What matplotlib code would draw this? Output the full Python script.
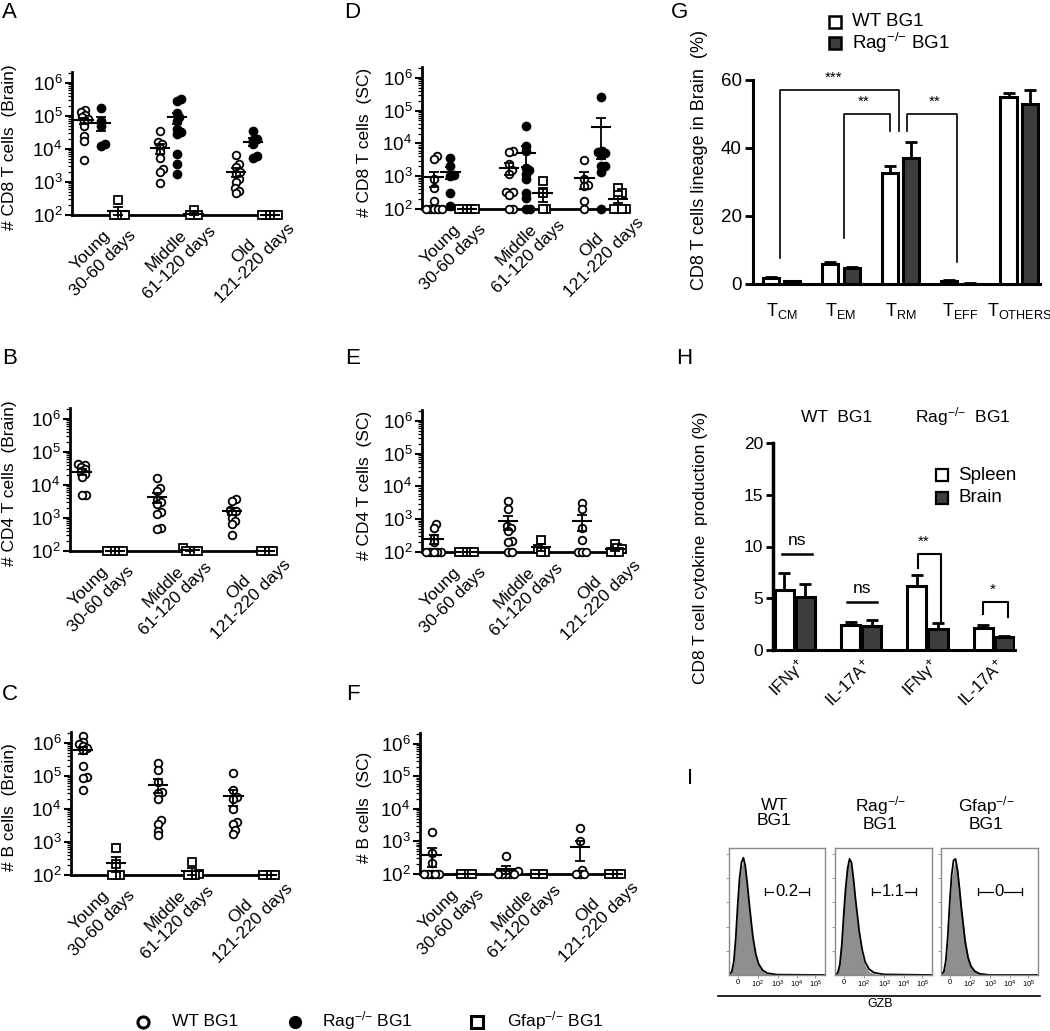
import numpy as np
import matplotlib
matplotlib.use("Agg")
import matplotlib.pyplot as plt
from matplotlib.ticker import LogLocator, LogFormatterSciNotation, NullFormatter

plt.rcParams['font.family'] = ['Liberation Sans', 'DejaVu Sans']
plt.rcParams['mathtext.fontset'] = 'custom'
plt.rcParams['mathtext.rm'] = 'Liberation Sans'
plt.rcParams['mathtext.it'] = 'Liberation Sans:italic'
plt.rcParams['mathtext.bf'] = 'Liberation Sans:bold'

# ---- data ----
AGE_LABELS = ['Young\n30-60 days', 'Middle\n61-120 days', 'Old\n121-220 days']
KO = r'$^{{-}/{-}}$'

# A: CD8 T cells, brain  (young, middle, old)
cd8_brain_wt = [[1.5e5, 1.3e5, 1.1e5, 9e4, 8e4, 7e4, 5e4, 2.5e4, 1.8e4, 4.5e3],
                [3.5e4, 1.6e4, 1.4e4, 1.1e4, 8e3, 5.5e3, 2.5e3, 2e3, 9e2],
                [6.5e3, 3.5e3, 2.8e3, 2e3, 1.8e3, 1.2e3, 1e3, 6.5e2, 5.5e2, 4.5e2]]
cd8_brain_rag = [[1.7e5, 7e4, 5e4, 1.4e4, 1.2e4],
                 [3.3e5, 2.8e5, 1.2e5, 9e4, 7e4, 4e4, 3.2e4, 2.8e4, 7e3, 3.5e3, 1.7e3],
                 [3.5e4, 2e4, 1.9e4, 1.4e4, 6e3, 5.5e3]]
cd8_brain_gfap = [[280, 100, 100, 100, 100],
                  [140, 100, 100, 100],
                  [100, 100, 100, 100, 100]]

# D: CD8 T cells, spinal cord
cd8_sc_wt = [[4e3, 3.3e3, 8e2, 4.5e2, 1.7e2, 100, 100, 100, 100, 100],
             [6e3, 5.5e3, 2.3e3, 1.5e3, 1.2e3, 3.3e2, 3.2e2, 2.7e2, 100, 100],
             [3.2e3, 8e2, 5.5e2, 5e2, 1.7e2, 100]]
cd8_sc_rag = [[3.7e3, 2e3, 1.1e3, 1e3, 3e2, 1.2e2],
              [3.5e4, 8.5e3, 6e3, 1.8e3, 1.5e3, 1.2e3, 8e2, 3e2, 2.1e2, 100, 100],
              [2.6e5, 6e3, 5.5e3, 5e3, 4.5e3, 2.1e3, 2e3, 1.3e3, 100]]
cd8_sc_gfap = [[100, 100, 100, 100, 100],
               [7e2, 3e2, 100, 100],
               [4.4e2, 3e2, 2.7e2, 100, 100, 100, 100]]

# B: CD4 T cells, brain
cd4_brain_wt = [[4.3e4, 4e4, 3.5e4, 3e4, 2.6e4, 2.2e4, 1.8e4, 5e3, 4.8e3],
                [1.6e4, 8e3, 6.5e3, 3.5e3, 3e3, 2.6e3, 1.5e3, 1.3e3, 5e2, 4.5e2],
                [3.8e3, 3.2e3, 1.8e3, 1.6e3, 1.4e3, 1e3, 8e2, 6.5e2, 3e2]]
cd4_brain_gfap = [[100, 100, 100, 100, 100],
                  [120, 100, 100, 100, 100],
                  [100, 100, 100, 100]]

# E: CD4 T cells, spinal cord
cd4_sc_wt = [[7e2, 5.5e2, 2.7e2, 2e2, 100, 100, 100, 100, 100],
             [3.7e3, 2e3, 6e2, 5.5e2, 4.5e2, 2.1e2, 2e2, 100, 100],
             [3.2e3, 2.1e3, 5.5e2, 2.4e2, 100, 100, 100]]
cd4_sc_gfap = [[100, 100, 100, 100, 100],
               [2.4e2, 1.2e2, 100, 100],
               [1.7e2, 1.3e2, 1.2e2, 100, 100, 100]]

# C: B cells, brain
b_brain_wt = [[1.6e6, 1.1e6, 9e5, 8e5, 7e5, 6e5, 2e5, 9e4, 8.5e4, 3.8e4],
              [2.4e5, 1.5e5, 6.5e4, 3.3e4, 3e4, 2e4, 4.5e3, 3.6e3, 2.2e3, 1.6e3],
              [1.2e5, 3.8e4, 2.3e4, 2e4, 1e4, 4e3, 3.5e3, 2.3e3, 1.8e3]]
b_brain_gfap = [[6.5e2, 2.2e2, 100, 100, 100],
                [2.4e2, 110, 100, 100, 100],
                [100, 100, 100, 100]]

# F: B cells, spinal cord
b_sc_wt = [[2e3, 4.5e2, 2.2e2, 100, 100, 100, 100, 100],
           [3.5e2, 1.2e2, 100, 100, 100, 100, 100],
           [2.5e3, 1e3, 1.3e2, 100, 100, 100]]
b_sc_gfap = [[100, 100, 100, 100],
             [100, 100, 100],
             [100, 100, 100, 100]]

# G: CD8 T cell lineage in brain (%)
lineage_labels = [r'$\mathrm{T_{CM}}$', r'$\mathrm{T_{EM}}$', r'$\mathrm{T_{RM}}$',
                  r'$\mathrm{T_{EFF}}$', r'$\mathrm{T_{OTHERS}}$']
lineage_wt = [1.8, 5.8, 32.5, 0.8, 55.0]
lineage_wt_err = [0.2, 0.8, 2.2, 0.3, 1.3]
lineage_rag = [0.8, 4.8, 37.0, 0.1, 53.0]
lineage_rag_err = [0.1, 0.3, 4.7, 0.05, 4.2]

# H: cytokine production (%)
cytokine_labels = ['IFNγ$^{+}$', 'IL-17A$^{+}$', 'IFNγ$^{+}$', 'IL-17A$^{+}$']
cytokine_spleen = [5.8, 2.4, 6.2, 2.1]
cytokine_spleen_err = [1.6, 0.3, 1.0, 0.3]
cytokine_brain = [5.1, 2.3, 2.0, 1.3]
cytokine_brain_err = [1.3, 0.6, 0.6, 0.1]

# I: GZB histograms (fraction of box width / height)
hist_x = [0.0, 0.03, 0.05, 0.07, 0.09, 0.11, 0.13, 0.15, 0.17, 0.19, 0.21, 0.23,
          0.25, 0.28, 0.31, 0.35, 0.40, 0.50, 1.0]
hist_iso = [0, 0.03, 0.10, 0.28, 0.55, 0.78, 0.90, 0.94, 0.88, 0.74, 0.58, 0.44,
            0.30, 0.16, 0.08, 0.03, 0.01, 0, 0]
hist_gzb = [[0, 0.03, 0.11, 0.30, 0.57, 0.80, 0.93, 0.97, 0.90, 0.76, 0.60, 0.45,
             0.31, 0.17, 0.09, 0.04, 0.015, 0.003, 0],
            [0, 0.02, 0.09, 0.25, 0.50, 0.72, 0.88, 0.96, 0.93, 0.80, 0.64, 0.50,
             0.36, 0.21, 0.11, 0.05, 0.02, 0.005, 0],
            [0, 0.03, 0.12, 0.32, 0.60, 0.83, 0.95, 0.96, 0.87, 0.72, 0.55, 0.41,
             0.27, 0.14, 0.07, 0.03, 0.01, 0, 0]]
gzb_pct = ['0.2', '1.1', '0']
gzb_titles = ['WT\nBG1', 'Rag' + KO + '\nBG1', 'Gfap' + KO + '\nBG1']
flow_ticks = ['0', '10$^{2}$', '10$^{3}$', '10$^{4}$', '10$^{5}$']

# ---- layout ----
W, H = 1050, 1031
fig = plt.figure(figsize=(W / 100, H / 100), dpi=100)

ov = fig.add_axes([0, 0, 1, 1])
ov.set_xlim(0, W)
ov.set_ylim(H, 0)
ov.axis('off')
ov.patch.set_visible(False)
ov.set_zorder(10)


def px_axes(x0, y0, x1, y1):
    return fig.add_axes([x0 / W, 1 - y1 / H, (x1 - x0) / W, (y1 - y0) / H])


GROUP_STEP = 4.5
XLIM = (-0.7, 11.6)
YTOP = 10 ** 6.33
DARK = '#3d3d3d'
STYLES = [dict(marker='o', mfc='white', mec='k', ms=5.5, mew=1.3),
          dict(marker='o', mfc='k', mec='k', ms=6, mew=1),
          dict(marker='s', mfc='white', mec='k', ms=5.5, mew=1.3)]


def swarm(logv, px_u, px_dec, dia=3.9):
    # simple beeswarm: smallest horizontal shift that avoids overlaps
    order = np.argsort(logv)
    placed = []
    offs = np.zeros(len(logv))
    for i in order:
        y = logv[i] * px_dec
        best = 0.0
        found = False
        for step in range(0, 60):
            for sgn in ((1,) if step == 0 else (1, -1)):
                x = sgn * step * dia * 0.25
                if all((x - a) ** 2 + (y - b) ** 2 >= dia ** 2 for a, b in placed):
                    best = x
                    found = True
                    break
            if found:
                break
        placed.append((best, y))
        offs[i] = best / px_u
    return offs


def scatter_panel(rect, series, ylabel, ylab_x):
    ax = px_axes(*rect)
    ax.set_yscale('log')
    ax.set_ylim(100, YTOP)
    ax.set_xlim(*XLIM)
    px_u = (rect[2] - rect[0]) / (XLIM[1] - XLIM[0])
    px_dec = (rect[3] - rect[1]) / np.log10(YTOP / 100)
    for k, data in enumerate(series):
        if data is None:
            continue
        for g in range(3):
            v = np.array(data[g], dtype=float)
            x0 = g * GROUP_STEP + k
            offs = swarm(np.log10(v), px_u, px_dec)
            ax.plot(x0 + offs, v, ls='none', clip_on=False, zorder=4, **STYLES[k])
            m = v.mean()
            se = v.std(ddof=1) / np.sqrt(len(v))
            ax.plot([x0 - 0.55, x0 + 0.55], [m, m], color='k', lw=1.5, zorder=5,
                    clip_on=False)
            ax.errorbar([x0], [m], yerr=[[min(se, m - 100)], [se]], fmt='none',
                        ecolor='k', elinewidth=1.3, capsize=3.4, capthick=1.3,
                        zorder=5, clip_on=False)
    for s in ('top', 'right'):
        ax.spines[s].set_visible(False)
    ax.spines['left'].set_linewidth(2)
    ax.spines['bottom'].set_linewidth(2)
    ax.yaxis.set_major_locator(LogLocator(base=10, numticks=10))
    ax.yaxis.set_major_formatter(LogFormatterSciNotation())
    ax.yaxis.set_minor_locator(LogLocator(base=10, subs=np.arange(2, 10), numticks=20))
    ax.yaxis.set_minor_formatter(NullFormatter())
    ax.tick_params(axis='y', which='major', length=5, width=1.5, labelsize=13.5, pad=2)
    ax.tick_params(axis='y', which='minor', length=3, width=0.9)
    ax.set_xticks([g * GROUP_STEP + 0.1 for g in range(3)])
    ax.set_xticklabels(AGE_LABELS, fontsize=12.5)
    ax.tick_params(axis='x', length=0, pad=22)
    for lbl in ax.get_xticklabels():
        lbl.set_rotation(45)
        lbl.set_ha('center')
        lbl.set_va('top')
        lbl.set_rotation_mode('anchor')
        lbl.set_multialignment('center')
    ov.text(ylab_x, (rect[1] + rect[3]) / 2 + 4, ylabel, rotation=90, ha='center',
            va='center', fontsize=12.5)
    return ax


scatter_panel((72, 72, 280, 215), [cd8_brain_wt, cd8_brain_rag, cd8_brain_gfap],
              '# CD8 T cells  (Brain)', 10)
scatter_panel((422, 67, 628, 209), [cd8_sc_wt, cd8_sc_rag, cd8_sc_gfap],
              '# CD8 T cells  (SC)', 364)
scatter_panel((70, 408, 275, 551), [cd4_brain_wt, None, cd4_brain_gfap],
              '# CD4 T cells  (Brain)', 10)
scatter_panel((422, 410, 625, 552), [cd4_sc_wt, None, cd4_sc_gfap],
              '# CD4 T cells  (SC)', 364)
scatter_panel((71, 732, 277, 875), [b_brain_wt, None, b_brain_gfap],
              '# B cells  (Brain)', 10)
scatter_panel((420, 733, 623, 874), [b_sc_wt, None, b_sc_gfap],
              '# B cells  (SC)', 364)

# ---- G: lineage bars ----
axg = px_axes(753, 80, 1040, 284)
xg = np.arange(len(lineage_wt))
axg.bar(xg - 0.18, lineage_wt, 0.27, color='white', edgecolor='k', lw=2.2, zorder=3)
axg.bar(xg + 0.18, lineage_rag, 0.27, color=DARK, edgecolor='k', lw=2.2, zorder=3)
axg.errorbar(xg - 0.18, lineage_wt, yerr=[np.zeros(5), lineage_wt_err], fmt='none',
             ecolor='k', elinewidth=2, capsize=4, capthick=2, zorder=2)
axg.errorbar(xg + 0.18, lineage_rag, yerr=[np.zeros(5), lineage_rag_err], fmt='none',
             ecolor='k', elinewidth=2, capsize=4, capthick=2, zorder=2)
axg.set_ylim(0, 60)
axg.set_xlim(-0.48, 4.35)
axg.set_yticks([0, 20, 40, 60])
axg.set_xticks(xg)
axg.set_xticklabels(lineage_labels, fontsize=13)
axg.tick_params(axis='x', length=0, pad=12)
axg.tick_params(axis='y', length=6, width=2, labelsize=13.5, pad=2)
for s in ('top', 'right'):
    axg.spines[s].set_visible(False)
axg.spines['left'].set_linewidth(2.2)
axg.spines['bottom'].set_linewidth(2.2)
# significance brackets: (x left, y left bottom, x right, y right bottom, y top, text x, label)
g_brackets = [(-0.03, 7.5, 1.98, 45, 57, 0.88, '***'),
              (1.05, 13.5, 1.83, 45, 50, 1.38, '**'),
              (2.12, 45, 2.95, 6.5, 50, 2.58, '**')]
for xl, yl, xr, yr, yt, xt, lab in g_brackets:
    axg.plot([xl, xl, xr, xr], [yl, yt, yt, yr], color='k', lw=1.2, zorder=4)
    axg.text(xt, yt + 1.5, lab, ha='center', va='bottom', fontsize=11)
ov.text(700, 160, 'CD8 T cells lineage in Brain  (%)', rotation=90, ha='center',
        va='center', fontsize=13)
for yy, fc, lab in [(22, 'white', 'WT BG1'), (43, DARK, 'Rag' + KO + ' BG1')]:
    ov.plot([835], [yy], marker='s', ms=8.5, mfc=fc, mec='k', mew=1.8)
    ov.text(852, yy, lab, ha='left', va='center', fontsize=13.5)

# ---- H: cytokine bars ----
axh = px_axes(773, 443, 1015, 650)
xh = np.arange(len(cytokine_spleen))
axh.bar(xh - 0.16, cytokine_spleen, 0.29, color='white', edgecolor='k', lw=2.2, zorder=3)
axh.bar(xh + 0.16, cytokine_brain, 0.29, color=DARK, edgecolor='k', lw=2.2, zorder=3)
axh.errorbar(xh - 0.16, cytokine_spleen, yerr=[np.zeros(4), cytokine_spleen_err],
             fmt='none', ecolor='k', elinewidth=2, capsize=4, capthick=2, zorder=2)
axh.errorbar(xh + 0.16, cytokine_brain, yerr=[np.zeros(4), cytokine_brain_err],
             fmt='none', ecolor='k', elinewidth=2, capsize=4, capthick=2, zorder=2)
axh.set_ylim(0, 20)
axh.set_xlim(-0.33, 3.32)
axh.set_yticks([0, 5, 10, 15, 20])
axh.set_xticks(xh + 0.02)
axh.set_xticklabels(cytokine_labels, fontsize=12)
axh.tick_params(axis='x', length=0, pad=4)
for lbl in axh.get_xticklabels():
    lbl.set_rotation(45)
    lbl.set_ha('right')
    lbl.set_va('top')
    lbl.set_rotation_mode('anchor')
axh.tick_params(axis='y', length=5, width=2, labelsize=12.5, pad=2)
for s in ('top', 'right'):
    axh.spines[s].set_visible(False)
axh.spines['left'].set_linewidth(2.5)
axh.spines['bottom'].set_linewidth(2.2)
axh.plot([-0.2, 0.26], [9.3, 9.3], color='k', lw=1.8)
axh.text(0.03, 9.9, 'ns', ha='center', va='bottom', fontsize=12.5)
axh.plot([0.79, 1.24], [4.6, 4.6], color='k', lw=1.8)
axh.text(1.01, 5.2, 'ns', ha='center', va='bottom', fontsize=12.5)
h_brackets = [(1.85, 7.9, 2.21, 2.8, 9.3, 1.94, '**'),
              (2.83, 3.5, 3.21, 3.2, 4.6, 2.98, '*')]
for xl, yl, xr, yr, yt, xt, lab in h_brackets:
    axh.plot([xl, xl, xr, xr], [yl, yt, yt, yr], color='k', lw=1.5, zorder=4)
    axh.text(xt, yt + 0.5, lab, ha='center', va='bottom', fontsize=11)
ov.text(700, 548, 'CD8 T cell cytokine  production (%)', rotation=90, ha='center',
        va='center', fontsize=12.5)
ov.text(837, 417, 'WT  BG1', ha='center', va='center', fontsize=12.5)
ov.text(963, 417, 'Rag' + KO + '  BG1', ha='center', va='center', fontsize=12.5)
for yy, fc, lab in [(475, 'white', 'Spleen'), (498, DARK, 'Brain')]:
    ov.plot([942], [yy], marker='s', ms=8, mfc=fc, mec='k', mew=1.6)
    ov.text(958, yy, lab, ha='left', va='center', fontsize=13.5)

# ---- I: flow histograms ----
box_x = [(729, 825), (835, 932), (941, 1038)]
for j, (bx0, bx1) in enumerate(box_x):
    axi = px_axes(bx0, 848, bx1, 975)
    axi.fill_between(hist_x, hist_iso, color='#8f8f8f', lw=0)
    axi.plot(hist_x, hist_gzb[j], color='k', lw=1.3)
    axi.set_xlim(0, 1)
    axi.set_ylim(0, 1.05)
    for s in axi.spines.values():
        s.set_color('#8a8a8a')
        s.set_linewidth(1)
    axi.set_xticks([0.09, 0.30, 0.51, 0.71, 0.90])
    axi.set_xticklabels(flow_ticks, fontsize=5.5)
    axi.set_yticks([0.2, 0.4, 0.6, 0.8, 1.0])
    axi.set_yticklabels([])
    axi.tick_params(length=2, width=0.6, color='#8a8a8a', pad=1)
    axi.plot([0.38, 0.83], [0.69, 0.69], color='k', lw=0.9)
    axi.plot([0.38, 0.38], [0.66, 0.72], color='k', lw=0.9)
    axi.plot([0.83, 0.83], [0.66, 0.72], color='k', lw=0.9)
    axi.text(0.60, 0.69, gzb_pct[j], ha='center', va='center', fontsize=12,
             bbox=dict(fc='white', ec='none', pad=0.5))
    ov.text((bx0 + bx1) / 2 - 3, 813, gzb_titles[j], ha='center', va='center',
            fontsize=12.5, linespacing=1.0)
ov.plot([718, 1040], [996, 996], color='k', lw=1.2)
ov.text(880, 1004, 'GZB', ha='center', va='center', fontsize=9,
        bbox=dict(fc='white', ec='none', pad=1))

# ---- bottom legend ----
ov.plot([143], [1022], ls='none', marker='o', mfc='white', mec='k', ms=8, mew=2.2)
ov.text(172, 1021, 'WT BG1', ha='left', va='center', fontsize=12.5)
ov.plot([295], [1022], ls='none', marker='o', mfc='k', mec='k', ms=8.5)
ov.text(322, 1021, 'Rag' + KO + ' BG1', ha='left', va='center', fontsize=12.5)
ov.plot([477], [1022], ls='none', marker='s', mfc='white', mec='k', ms=8.5, mew=2.2)
ov.text(507, 1021, 'Gfap' + KO + ' BG1', ha='left', va='center', fontsize=12.5)

# ---- panel letters ----
for lab, (x, y) in {'A': (9, 13), 'D': (352, 13), 'G': (680, 13),
                    'B': (10, 359), 'E': (353, 359), 'H': (684, 358),
                    'C': (10, 695), 'F': (353, 694), 'I': (690, 778)}.items():
    ov.text(x, y, lab, ha='center', va='center', fontsize=16)

fig.savefig('out.png', dpi=100)
